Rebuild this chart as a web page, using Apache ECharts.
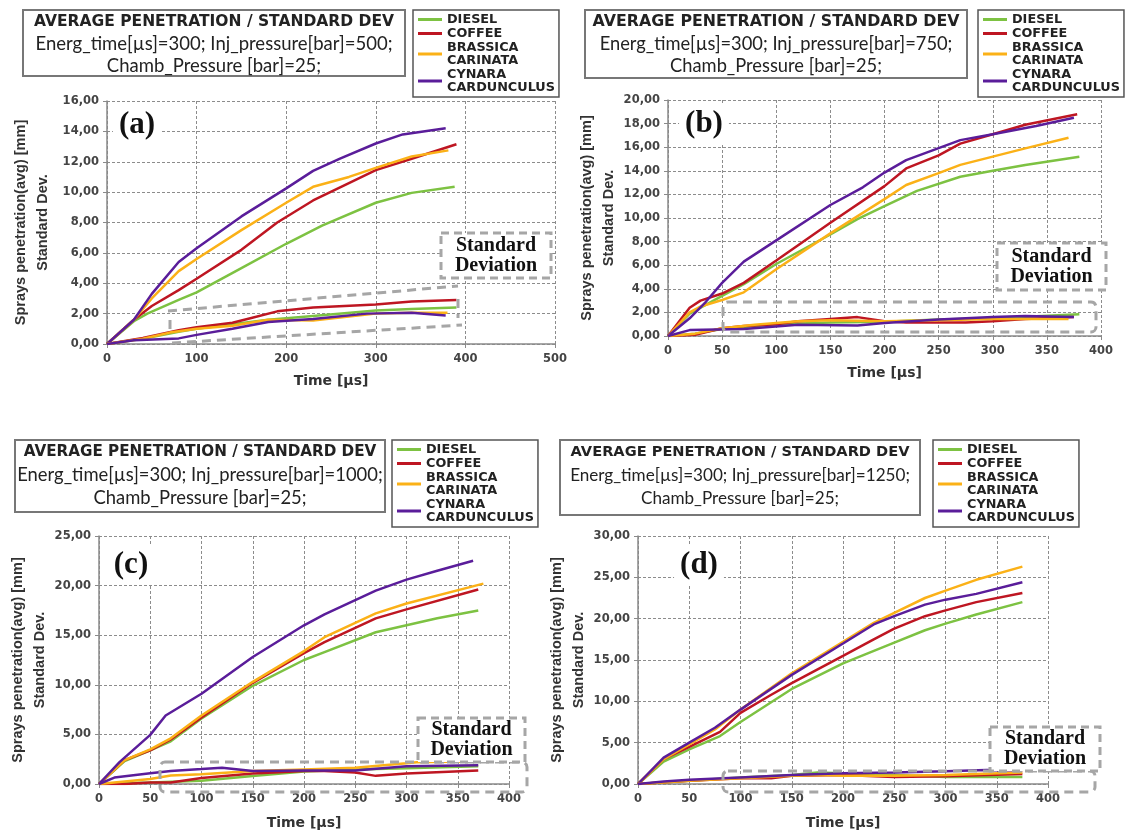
<!DOCTYPE html>
<html><head><meta charset="utf-8">
<script src="https://cdn.jsdelivr.net/npm/echarts@6/dist/echarts.min.js"></script>
<style>html,body{margin:0;padding:0;background:#fff}#c{width:1131px;height:833px}</style>
</head><body><div id="c"></div><script>
// ---------- DATA ----------
const fuels = ['DIESEL', 'COFFEE', 'BRASSICA\nCARINATA', 'CYNARA\nCARDUNCULUS'];
const injPressures = ['500', '750', '1000', '1250'];
const panelLetters = ['(a)', '(b)', '(c)', '(d)'];
const xMaxes = [500, 400, 400, 400];
const xSteps = [100, 50, 50, 50];
const yMaxes = [16, 20, 25, 30];
const ySteps = [2, 2, 5, 5];

// Panel (a) - 500 bar : [time µs, mm]
const aDieselAvg = [[0,0],[30,1.5],[45,2.0],[80,2.9],[100,3.4],[150,5.0],[200,6.6],[240,7.8],[300,9.3],[340,9.95],[388,10.35]];
const aCoffeeAvg = [[0,0],[30,1.6],[50,2.5],[80,3.55],[100,4.3],[150,6.2],[190,8.0],[230,9.45],[270,10.6],[300,11.45],[340,12.2],[390,13.15]];
const aBrassicaAvg = [[0,0],[30,1.6],[50,3.0],[80,4.8],[100,5.6],[150,7.5],[200,9.3],[230,10.35],[270,11.0],[300,11.6],[340,12.35],[381,12.75]];
const aCynaraAvg = [[0,0],[30,1.6],[50,3.3],[80,5.4],[100,6.3],[150,8.4],[200,10.25],[230,11.4],[260,12.2],[300,13.2],[330,13.8],[378,14.2]];
const aDieselStd = [[0,0],[40,0.35],[80,0.8],[100,1.0],[180,1.6],[230,1.85],[300,2.2],[340,2.3],[390,2.4]];
const aCoffeeStd = [[0,0],[40,0.4],[80,0.9],[100,1.1],[140,1.4],[160,1.7],[190,2.15],[230,2.4],[300,2.6],[340,2.8],[390,2.9]];
const aBrassicaStd = [[0,0],[40,0.35],[70,0.75],[100,1.0],[140,1.2],[180,1.6],[230,1.55],[300,2.0],[340,2.05],[380,2.05]];
const aCynaraStd = [[0,0],[30,0.25],[80,0.37],[100,0.6],[140,1.0],[180,1.45],[230,1.65],[290,2.0],[340,2.05],[378,1.88]];

// Panel (b) - 750 bar
const bDieselAvg = [[0,0],[20,1.9],[50,3.4],[70,4.4],[100,6.1],[150,8.6],[175,9.9],[200,11.0],[230,12.3],[270,13.5],[300,14.0],[330,14.5],[380,15.2]];
const bCoffeeAvg = [[0,0],[20,2.4],[30,3.0],[50,3.6],[70,4.5],[100,6.4],[150,9.6],[200,12.7],[220,14.2],[250,15.3],[270,16.3],[300,17.1],[330,17.9],[378,18.8]];
const bBrassicaAvg = [[0,0],[20,2.0],[30,2.5],[50,3.05],[70,3.7],[100,5.65],[150,8.7],[200,11.6],[220,12.8],[250,13.8],[270,14.5],[300,15.2],[330,15.9],[370,16.8]];
const bCynaraAvg = [[0,0],[20,1.5],[35,2.9],[50,4.5],[70,6.3],[100,8.1],[150,11.1],[180,12.6],[200,13.85],[220,14.9],[270,16.6],[300,17.1],[340,17.8],[375,18.5]];
const bDieselStd = [[0,0],[25,0.2],[50,0.6],[100,1.0],[150,1.15],[200,1.2],[250,1.4],[300,1.5],[380,1.85]];
const bCoffeeStd = [[0,0],[25,0.1],[50,0.65],[70,0.85],[100,1.0],[120,1.25],[150,1.45],[175,1.6],[200,1.25],[220,1.15],[275,1.15],[300,1.25],[330,1.45],[375,1.6]];
const bBrassicaStd = [[0,0],[25,0.2],[50,0.65],[80,0.95],[120,1.25],[150,1.33],[200,1.25],[250,1.33],[300,1.44],[370,1.44]];
const bCynaraStd = [[0,0],[20,0.5],[70,0.6],[120,0.95],[175,0.9],[200,1.1],[250,1.4],[300,1.6],[330,1.7],[375,1.6]];

// Panel (c) - 1000 bar
const cDieselAvg = [[0,0],[25,2.3],[50,3.4],[70,4.3],[100,6.6],[150,9.9],[200,12.5],[220,13.3],[270,15.3],[300,16.0],[330,16.7],[370,17.5]];
const cCoffeeAvg = [[0,0],[25,2.4],[50,3.4],[70,4.5],[100,6.7],[150,10.2],[200,13.2],[220,14.3],[270,16.7],[300,17.6],[370,19.6]];
const cBrassicaAvg = [[0,0],[25,2.4],[50,3.5],[70,4.6],[100,6.9],[150,10.3],[200,13.4],[220,14.8],[270,17.2],[300,18.2],[375,20.2]];
const cCynaraAvg = [[0,0],[20,2.2],[50,4.95],[65,6.9],[100,9.1],[150,12.8],[200,16.0],[220,17.1],[270,19.5],[300,20.6],[330,21.5],[365,22.5]];
const cDieselStd = [[0,0],[50,0.15],[100,0.33],[150,0.8],[200,1.25],[250,1.45],[300,1.6],[370,1.8]];
const cCoffeeStd = [[0,0],[25,0.0],[50,0.15],[70,0.16],[100,0.6],[150,1.05],[200,1.3],[220,1.3],[250,1.15],[270,0.82],[300,1.05],[370,1.37]];
const cBrassicaStd = [[0,0],[50,0.5],[70,0.85],[100,0.98],[150,1.3],[200,1.47],[250,1.63],[300,2.1],[310,2.2],[375,2.3]];
const cCynaraStd = [[0,0],[15,0.65],[50,1.08],[70,1.3],[100,1.5],[120,1.64],[150,1.3],[200,1.37],[250,1.37],[300,1.8],[370,1.9]];

// Panel (d) - 1250 bar
const dDieselAvg = [[0,0],[25,2.7],[50,4.2],[80,5.8],[100,7.5],[150,11.5],[200,14.6],[250,17.1],[280,18.6],[300,19.4],[330,20.5],[375,22.0]];
const dCoffeeAvg = [[0,0],[25,3.0],[50,4.5],[80,6.3],[100,8.6],[130,10.8],[150,12.2],[200,15.5],[230,17.5],[250,18.8],[280,20.3],[300,21.0],[330,22.0],[375,23.1]];
const dBrassicaAvg = [[0,0],[25,3.0],[50,4.8],[75,6.6],[100,9.0],[150,13.4],[200,17.2],[230,19.5],[250,20.7],[280,22.5],[300,23.4],[330,24.7],[375,26.3]];
const dCynaraAvg = [[0,0],[25,3.2],[50,5.0],[75,6.8],[100,9.0],[150,13.2],[200,17.0],[230,19.3],[250,20.3],[280,21.7],[300,22.3],[330,23.0],[375,24.4]];
const dDieselStd = [[0,0],[50,0.4],[100,0.8],[150,1.1],[175,1.4],[200,1.3],[250,1.1],[300,0.85],[375,0.85]];
const dCoffeeStd = [[0,0],[50,0.4],[100,0.7],[130,0.7],[150,1.0],[200,1.1],[250,0.85],[300,0.95],[375,1.2]];
const dBrassicaStd = [[0,0],[50,0.4],[100,0.7],[150,1.0],[180,1.1],[200,1.0],[250,1.0],[300,1.1],[375,1.4]];
const dCynaraStd = [[0,0],[25,0.3],[50,0.5],[100,0.8],[150,1.1],[200,1.3],[250,1.4],[300,1.55],[340,1.7],[375,1.65]];

const panelAvg = [
  [aDieselAvg, aCoffeeAvg, aBrassicaAvg, aCynaraAvg],
  [bDieselAvg, bCoffeeAvg, bBrassicaAvg, bCynaraAvg],
  [cDieselAvg, cCoffeeAvg, cBrassicaAvg, cCynaraAvg],
  [dDieselAvg, dCoffeeAvg, dBrassicaAvg, dCynaraAvg]
];
const panelStd = [
  [aDieselStd, aCoffeeStd, aBrassicaStd, aCynaraStd],
  [bDieselStd, bCoffeeStd, bBrassicaStd, bCynaraStd],
  [cDieselStd, cCoffeeStd, cBrassicaStd, cCynaraStd],
  [dDieselStd, dCoffeeStd, dBrassicaStd, dCynaraStd]
];

// ---------- STYLE / LAYOUT ----------
const colors = ['#7dc242', '#be1622', '#fbb117', '#5a1d9a'];
const layout = [
  { grid:{left:107,top:101,width:448,height:243}, gapY:53, gapX:30,
    box:{x:23,y:10,w:382,h:66}, lines:[22,44,66], f1:15.5, f2:18.5, legend:{left:413,top:10},
    lab:{x:137,y:125}, sd:{x:441,y:233,w:110,h:45} },
  { grid:{left:668,top:100,width:433,height:236}, gapY:44, gapX:30,
    box:{x:585,y:10,w:382,h:68}, lines:[22,44,66], f1:15.8, f2:18.3, legend:{left:978,top:10},
    lab:{x:704,y:124}, sd:{x:997,y:243,w:109,h:47} },
  { grid:{left:99,top:536,width:410,height:248}, gapY:47, gapX:32,
    box:{x:15,y:440,w:370,h:72}, lines:[452,475,498], f1:15.2, f2:18.4, legend:{left:392,top:440},
    lab:{x:131,y:565}, sd:{x:418,y:718,w:107,h:44} },
  { grid:{left:638,top:536,width:410,height:248}, gapY:46, gapX:32,
    box:{x:560,y:440,w:360,h:75}, lines:[452,475,498], f1:14.6, f2:17.1, legend:{left:933,top:440},
    lab:{x:699,y:565}, sd:{x:990,y:727,w:110,h:44} }
];

const grid = layout.map(L => Object.assign({containLabel:false}, L.grid));
const axisGray = '#8a8a8a';
const xAxis = layout.map((L, i) => ({
  gridIndex: i, type: 'value', min: 0, max: xMaxes[i], interval: xSteps[i],
  name: 'Time [µs]', nameLocation: 'middle', nameGap: L.gapX,
  nameTextStyle: {fontFamily: 'DejaVu Sans', fontWeight: 'bold', fontSize: 14, color: '#333'},
  axisLine: {lineStyle: {color: axisGray, width: 1.5}},
  axisTick: {show: true, length: 4, lineStyle: {color: axisGray}},
  axisLabel: {fontFamily: 'DejaVu Sans', fontWeight: 'bold', fontSize: 11.5, color: '#444', margin: 9},
  splitLine: {show: true, lineStyle: {color: '#8c8c8c', type: [3, 2], width: 1}}
}));
const yAxis = layout.map((L, i) => ({
  gridIndex: i, type: 'value', min: 0, max: yMaxes[i], interval: ySteps[i],
  name: 'Sprays penetration(avg) [mm]\nStandard Dev.', nameLocation: 'middle', nameRotate: 90, nameGap: L.gapY,
  nameTextStyle: {fontFamily: 'Liberation Sans', fontWeight: 'bold', fontSize: 14.5, color: '#333', lineHeight: 22},
  axisLine: {show: true, lineStyle: {color: axisGray, width: 1.5}},
  axisTick: {show: true, length: 4, lineStyle: {color: axisGray}},
  axisLabel: {fontFamily: 'DejaVu Sans', fontWeight: 'bold', fontSize: 11.5, color: '#444', margin: 8,
    formatter: v => v.toFixed(2).replace('.', ',')},
  splitLine: {show: true, lineStyle: {color: '#8c8c8c', type: [3, 2], width: 1}}
}));

const series = [];
for (let i = 0; i < 4; i++) {
  [panelAvg[i], panelStd[i]].forEach(group => {
    group.forEach((d, k) => {
      series.push({
        type: 'line', name: fuels[k], xAxisIndex: i, yAxisIndex: i, data: d,
        showSymbol: false, symbol: 'none', silent: true, z: 2,
        lineStyle: {width: 2.5, color: colors[k]}, itemStyle: {color: colors[k]}
      });
    });
  });
}

const legend = layout.map(L => ({
  left: L.legend.left, top: L.legend.top, orient: 'vertical', icon: 'rect',
  itemWidth: 24, itemHeight: 3, itemGap: 1, padding: [3, 4, 3, 5],
  borderColor: '#555', borderWidth: 1.5, backgroundColor: '#fff', selectedMode: false,
  data: fuels,
  textStyle: {fontFamily: 'DejaVu Sans', fontWeight: 'bold', fontSize: 12.8, color: '#222', lineHeight: 13}
}));

const graphic = [];
const dashGray = '#a6a6a6';
layout.forEach((L, i) => {
  const b = L.box, cx = b.x + b.w / 2;
  graphic.push({type: 'rect', z: 50, shape: {x: b.x, y: b.y, width: b.w, height: b.h},
    style: {fill: '#fff', stroke: '#777', lineWidth: 2}});
  const texts = ['AVERAGE PENETRATION / STANDARD DEV',
    'Energ_time[µs]=300; Inj_pressure[bar]=' + injPressures[i] + ';',
    'Chamb_Pressure [bar]=25;'];
  texts.forEach((t, j) => graphic.push({type: 'text', z: 51, x: cx, y: L.lines[j],
    style: {text: t, fill: '#222', align: 'center', verticalAlign: 'middle',
      font: j === 0 ? 'bold ' + L.f1 + 'px "DejaVu Sans"' : L.f2 + 'px Lato'}}));
  graphic.push({type: 'text', z: 60, x: L.lab.x, y: L.lab.y,
    style: {text: panelLetters[i], fill: '#111', align: 'center', verticalAlign: 'middle',
      font: 'bold 31px "Liberation Serif"', backgroundColor: '#fff', padding: [4, 6]}});
  const s = L.sd;
  graphic.push({type: 'rect', z: 60, shape: {x: s.x, y: s.y, width: s.w, height: s.h},
    style: {fill: '#fff', stroke: dashGray, lineWidth: 3, lineDash: [8, 5]}});
  graphic.push({type: 'text', z: 61, x: s.x + s.w / 2, y: s.y + s.h / 2,
    style: {text: 'Standard\nDeviation', fill: '#111', align: 'center', verticalAlign: 'middle',
      font: 'bold 20px "Liberation Serif"', lineHeight: 20}});
});
// dashed enclosures around the standard-deviation curves
const dashLine = (x1, y1, x2, y2) => ({type: 'line', z: 55, shape: {x1, y1, x2, y2},
  style: {stroke: dashGray, lineWidth: 3, lineDash: [9, 6]}});
graphic.push(dashLine(168, 311, 458, 286), dashLine(172, 343, 462, 325),
  dashLine(170, 320, 170, 334), dashLine(458, 299, 458, 318));
[[723, 302, 373, 30], [160, 762, 367, 30], [723, 771, 372, 21]].forEach(r =>
  graphic.push({type: 'rect', z: 55, shape: {x: r[0], y: r[1], width: r[2], height: r[3], r: 5},
    style: {fill: 'none', stroke: dashGray, lineWidth: 3, lineDash: [9, 6]}}));

const chart = echarts.init(document.getElementById('c'), null, {renderer: 'canvas'});
chart.setOption({animation: false, backgroundColor: '#fff', grid, xAxis, yAxis, series, legend, graphic});
</script></body></html>
